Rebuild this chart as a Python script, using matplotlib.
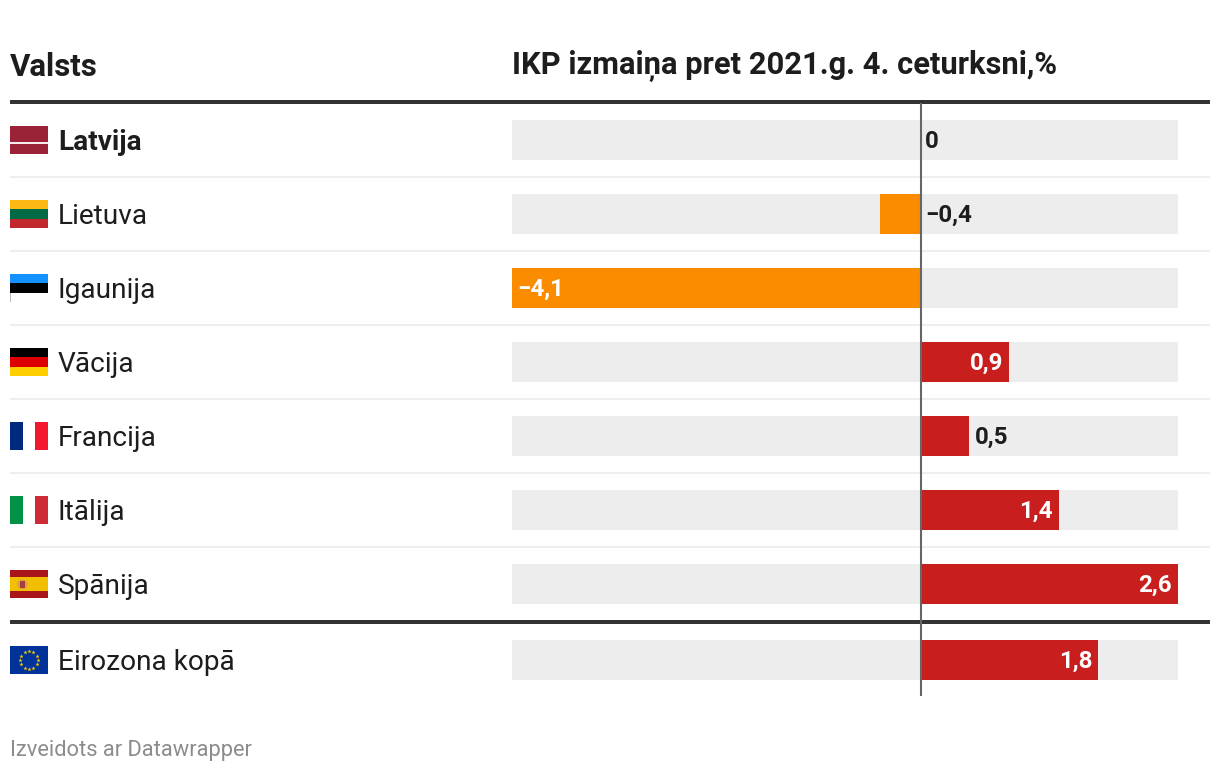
import numpy as np
import matplotlib
matplotlib.use("Agg")
import matplotlib.pyplot as plt
from matplotlib.patches import Rectangle, Ellipse

plt.rcParams['font.family'] = ['Roboto', 'DejaVu Sans']

countries = ["Latvija", "Lietuva", "Igaunija", "Vācija", "Francija", "Itālija", "Spānija", "Eirozona kopā"]
values = [0, -0.4, -4.1, 0.9, 0.5, 1.4, 2.6, 1.8]
labels = ["0", "−0,4", "−4,1", "0,9", "0,5", "1,4", "2,6", "1,8"]
header_left = "Valsts"
header_right = "IKP izmaiņa pret 2021.g. 4. ceturksni,%"
footer = "Izveidots ar Datawrapper"
row_centers = [140, 214, 288, 362, 436, 510, 584, 660]

W, H = 1220, 772
DARK = "#1d1d1d"
fig = plt.figure(figsize=(W / 100, H / 100), dpi=100, facecolor="white")

# layout layer in pixel coordinates
bg = fig.add_axes([0, 0, 1, 1])
bg.set_xlim(0, W); bg.set_ylim(H, 0); bg.axis("off")

# bar layer: x is a data scale, y in pixels
X0, X1 = 512, 1178
ax = fig.add_axes([X0 / W, 0, (X1 - X0) / W, 1])
ax.set_xlim(-4.1, 2.6); ax.set_ylim(H, 0); ax.axis("off"); ax.patch.set_alpha(0)

ax.barh(row_centers, [6.7] * len(values), left=-4.1, height=40, color="#ededed", linewidth=0, zorder=1)
colors = ["#fb8c00" if v < 0 else "#c81e1e" for v in values]
ax.barh(row_centers, values, height=40, color=colors, linewidth=0, zorder=2)

# rules
for y in row_centers[:6]:
    bg.add_patch(Rectangle((10, y + 36), 1200, 2, color="#eeeeee", lw=0, zorder=1))
bg.add_patch(Rectangle((10, 100), 1200, 4, color="#333333", lw=0, zorder=1))
bg.add_patch(Rectangle((10, 620), 1200, 4, color="#333333", lw=0, zorder=1))

ax.plot([0.015, 0.015], [103, 696], color="#666666", lw=1.5, zorder=3, solid_capstyle="butt")

# header / footer
bg.text(10, 76, header_left, fontsize=22.5, fontweight="bold", color=DARK, va="baseline")
bg.text(512.5, 74, header_right, fontsize=22.2, fontweight="bold", color=DARK, va="baseline")
bg.text(10, 756, footer, fontsize=15.75, color="#8c8c8c", va="baseline")

# row labels
for name, yc in zip(countries, row_centers):
    bold = name == "Latvija"
    bg.text(58, yc + 10, name, fontsize=20.2, color=DARK, va="baseline",
            fontweight="bold" if bold else "normal")

# value labels
for v, lab, yc in zip(values, labels, row_centers):
    kw = dict(fontsize=17.4, fontweight="bold", va="baseline")
    if v < -1:
        ax.annotate(lab, (v, yc + 8), xytext=(3.7, 0), textcoords="offset points", color="white", ha="left", **kw)
    elif v > 0.7:
        ax.annotate(lab, (v, yc + 8), xytext=(-4.5, 0), textcoords="offset points", color="white", ha="right", **kw)
    elif v > 0:
        ax.annotate(lab, (v, yc + 8), xytext=(4, 0), textcoords="offset points", color=DARK, ha="left", **kw)
    else:
        ax.annotate(lab, (0, yc + 8), xytext=(3.8, 0), textcoords="offset points", color=DARK, ha="left", **kw)

# flags: x 10..48, height 28
def hstripes(yc, stripes):
    top = yc - 14
    for start, end, c in stripes:
        bg.add_patch(Rectangle((10, top + start), 38, end - start, color=c, lw=0, zorder=2))

def vstripes(yc, stripes):
    for c, start, end in stripes:
        bg.add_patch(Rectangle((10 + start, yc - 14), end - start, 28, color=c, lw=0, zorder=2))

hstripes(140, [(0, 15.5, "#9b2338"), (15.5, 17.5, "#f6eced"), (17.5, 28, "#9b2338")])
hstripes(214, [(0, 9.3, "#fdb913"), (9.3, 18.7, "#006a44"), (18.7, 28, "#c1272d")])
hstripes(288, [(0, 9.3, "#1291ff"), (9.3, 18.7, "#000000"), (18.7, 28, "#ffffff")])
bg.add_patch(Rectangle((10, 274 + 18.7), 0.7, 9.3, color="#bbbbbb", lw=0, zorder=3))
hstripes(362, [(0, 9.3, "#000000"), (9.3, 18.7, "#dd0000"), (18.7, 28, "#ffce00")])
vstripes(436, [("#002a7f", 0, 13), ("#ffffff", 13, 25), ("#f31830", 25, 38)])
vstripes(510, [("#009246", 0, 13), ("#ffffff", 13, 25), ("#ce2b37", 25, 38)])
hstripes(584, [(0, 7, "#aa151b"), (7, 21, "#f1bf00"), (21, 28, "#aa151b")])
bg.add_patch(Ellipse((22.5, 584.3), 10, 9.5, color="#d99a5a", lw=0, zorder=3))
bg.add_patch(Rectangle((20.3, 580.5), 4.5, 7.5, color="#a8403a", lw=0, zorder=4))

# EU flag
bg.add_patch(Rectangle((10, 646), 38, 28, color="#003399", lw=0, zorder=2))
ang = np.arange(12) * np.pi / 6
bg.scatter(29 + 8.7 * np.cos(ang), 660 + 8.7 * np.sin(ang), marker="*", s=10, color="#ffcc00", lw=0, zorder=3)

fig.savefig("out.png", dpi=100, facecolor="white")
